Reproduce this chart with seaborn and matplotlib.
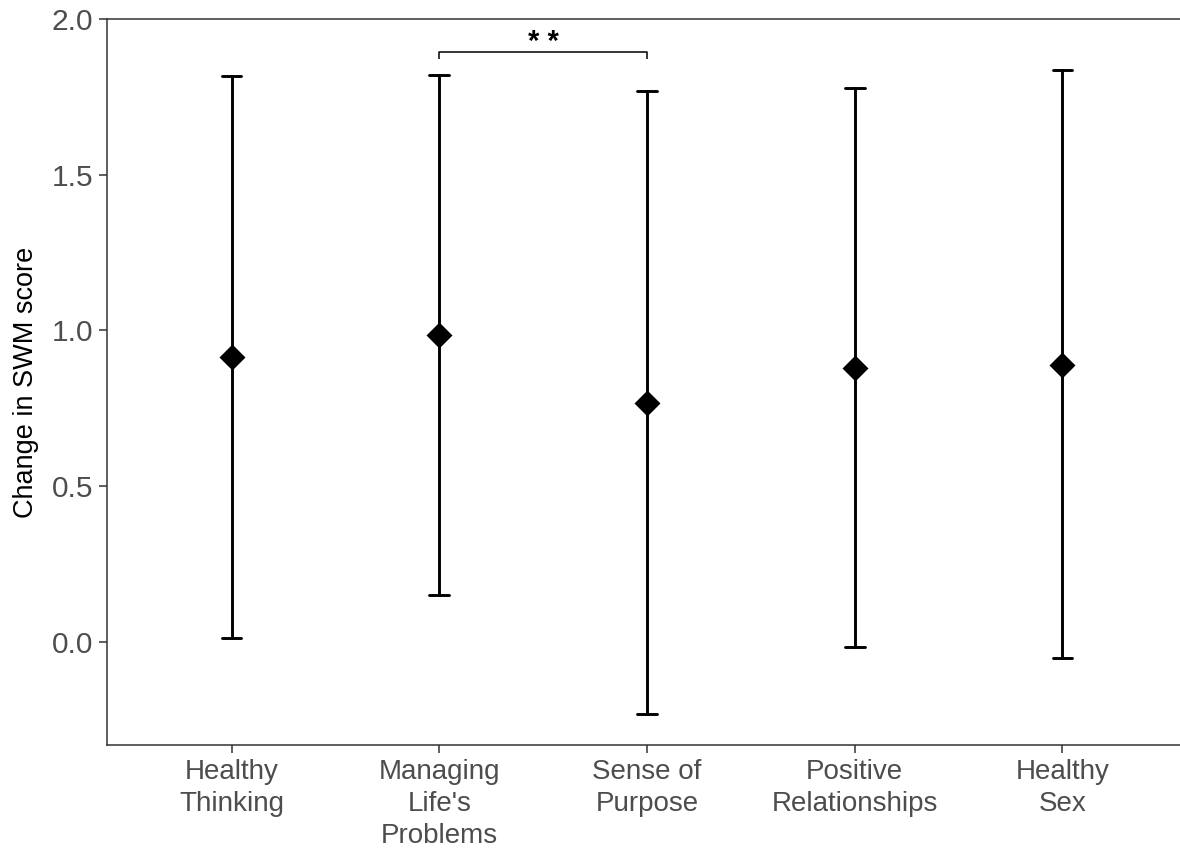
import numpy as np
import pandas as pd
import matplotlib
matplotlib.use("Agg")
import matplotlib.pyplot as plt
import seaborn as sns

# Domains of wellbeing and change in SWM score (mean with interval bounds)
domains = ["Healthy\nThinking", "Managing\nLife's\nProblems", "Sense of\nPurpose",
           "Positive\nRelationships", "Healthy\nSex"]
mean_change = [0.915, 0.986, 0.767, 0.878, 0.889]
lower = [0.014, 0.151, -0.231, -0.016, -0.052]
upper = [1.818, 1.820, 1.768, 1.777, 1.836]

# significance bracket between the 2nd and 3rd domains
sig_pair = (1, 2)
sig_label = "* *"

sns.set_theme(style="white")
plt.rcParams["font.family"] = ["Liberation Sans", "DejaVu Sans"]

# long table: each domain contributes its lower bound, mean and upper bound;
# the median gives the mean and the range gives the interval
rows = []
for d, lo, m, hi in zip(domains, lower, mean_change, upper):
    for v in (lo, m, hi):
        rows.append({"domain": d, "change": v})
df = pd.DataFrame(rows)

fig = plt.figure(figsize=(11.8, 8.57), dpi=100)
ax = fig.add_axes([107 / 1180, 1 - 745 / 857, 1 - 107 / 1180 + 0.006, (745 - 19) / 857])

sns.pointplot(
    data=df, x="domain", y="change", order=domains,
    estimator=np.median, errorbar=lambda s: (s.min(), s.max()),
    linestyle="none", marker="D", markersize=11.5, color="black",
    err_kws={"linewidth": 2.1}, capsize=0.095, ax=ax,
)

# significance bracket
x0, x1 = sig_pair
y_br, tip = 1.894, 0.022
ax.plot([x0, x0, x1, x1], [y_br - tip, y_br, y_br, y_br - tip],
        color="black", lw=1.1, solid_capstyle="butt")
ax.text((x0 + x1) / 2, y_br - 0.012, sig_label, ha="center", va="bottom",
        fontsize=21, color="black", fontweight="bold")

ax.set_xlim(-0.6, 4.6)
ax.set_ylim(-0.331, 2.0)
ax.set_yticks([0.0, 0.5, 1.0, 1.5, 2.0])
ax.set_yticklabels(["0.0", "0.5", "1.0", "1.5", "2.0"])
ax.set_xlabel("")
ax.set_ylabel("Change in SWM score", fontsize=19.5, color="black", labelpad=9)

for side in ("left", "bottom", "top"):
    ax.spines[side].set_visible(True)
    ax.spines[side].set_color("#333333")
    ax.spines[side].set_linewidth(1.1)
ax.spines["right"].set_visible(False)

ax.tick_params(axis="y", labelsize=21.5, labelcolor="#4D4D4D", color="#333333",
               length=6, width=1.1, left=True, pad=4)
ax.tick_params(axis="x", labelsize=20, labelcolor="#4D4D4D", color="#333333",
               length=6, width=1.1, bottom=True, pad=4)
for lbl in ax.get_xticklabels():
    lbl.set_linespacing(1.3)
    lbl.set_horizontalalignment("center")

fig.savefig("out.png", dpi=100)
